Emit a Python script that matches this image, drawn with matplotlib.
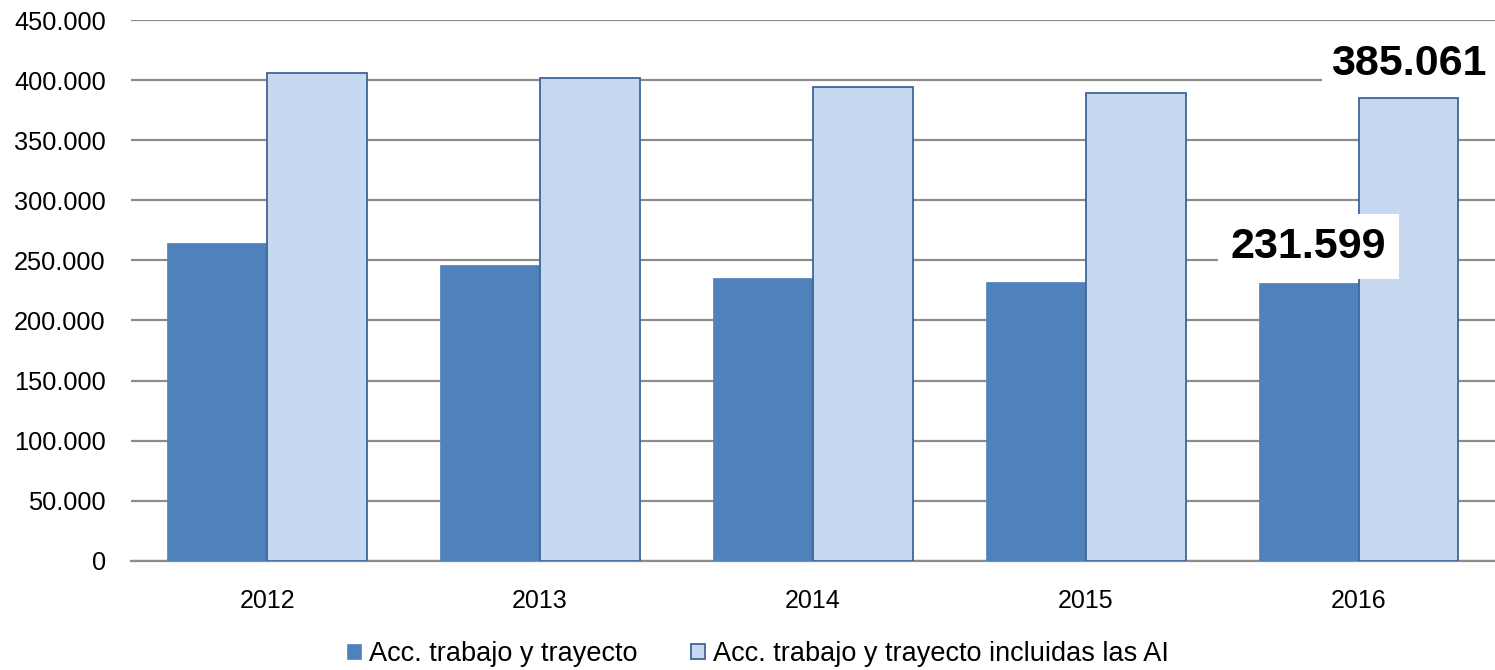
import numpy as np
import matplotlib
matplotlib.use("Agg")
import matplotlib.pyplot as plt
from matplotlib.ticker import FuncFormatter, MultipleLocator

# data
years = ["2012", "2013", "2014", "2015", "2016"]
acc_trabajo = [264100, 246200, 235600, 232000, 231599]
acc_incl_ai = [406100, 401800, 394300, 389300, 385061]
series_names = ["Acc. trabajo y trayecto", "Acc. trabajo y trayecto incluidas las AI"]

plt.rcParams['font.family'] = ['Liberation Sans', 'DejaVu Sans']

fig = plt.figure(figsize=(14.95, 6.7), dpi=100)
ax = fig.add_axes([0.0875, 0.163, 0.9125, 0.807])

x = np.arange(len(years))
w = 0.366
dark = ax.bar(x - w / 2, acc_trabajo, w, color='#4F81BD', edgecolor='#4F81BD',
              linewidth=0.5, zorder=3, label=series_names[0])
light = ax.bar(x + w / 2, acc_incl_ai, w, color='#C6D9F1', edgecolor='#3E6699',
               linewidth=1.3, zorder=3, label=series_names[1])

ax.set_xlim(-0.5, len(years) - 0.5)
ax.set_ylim(0, 450000)
ax.yaxis.set_major_locator(MultipleLocator(50000))
ax.yaxis.set_major_formatter(FuncFormatter(lambda v, p: f"{int(v):,}".replace(',', '.')))
ax.set_xticks(x)
ax.set_xticklabels(years)
ax.tick_params(axis='x', length=0, pad=20, labelsize=18)
ax.tick_params(axis='y', length=0, pad=18, labelsize=18.3)

ax.grid(axis='y', color='#8C8C8C', linewidth=1.6, zorder=0)
ax.set_axisbelow(True)
for s in ['top', 'right', 'left']:
    ax.spines[s].set_visible(False)
ax.spines['bottom'].set_color('#8C8C8C')
ax.spines['bottom'].set_linewidth(1.6)

# value labels for the last year
last = len(years) - 1
ax.annotate(f"{acc_incl_ai[last]:,}".replace(',', '.'), xy=(x[last] + w / 2, acc_incl_ai[last]),
            xytext=(0, 16.5), textcoords='offset points', ha='center', va='baseline',
            fontsize=31, fontweight='bold', zorder=5,
            bbox=dict(boxstyle='square,pad=0.2', facecolor='white', edgecolor='none'))
ax.annotate(f"{acc_trabajo[last]:,}".replace(',', '.'), xy=(x[last] - w / 2, acc_trabajo[last]),
            xytext=(0, 18), textcoords='offset points', ha='center', va='baseline',
            fontsize=31, fontweight='bold', zorder=5,
            bbox=dict(boxstyle='square,pad=0.3', facecolor='white', edgecolor='none'))

fig.legend(handles=[dark, light], labels=series_names, loc='center', bbox_to_anchor=(0.507, 0.024),
           ncol=2, frameon=False, fontsize=19.5, handlelength=0.5, handleheight=0.5,
           handletextpad=0.3, columnspacing=2.0)

fig.savefig("out.png", dpi=100)
